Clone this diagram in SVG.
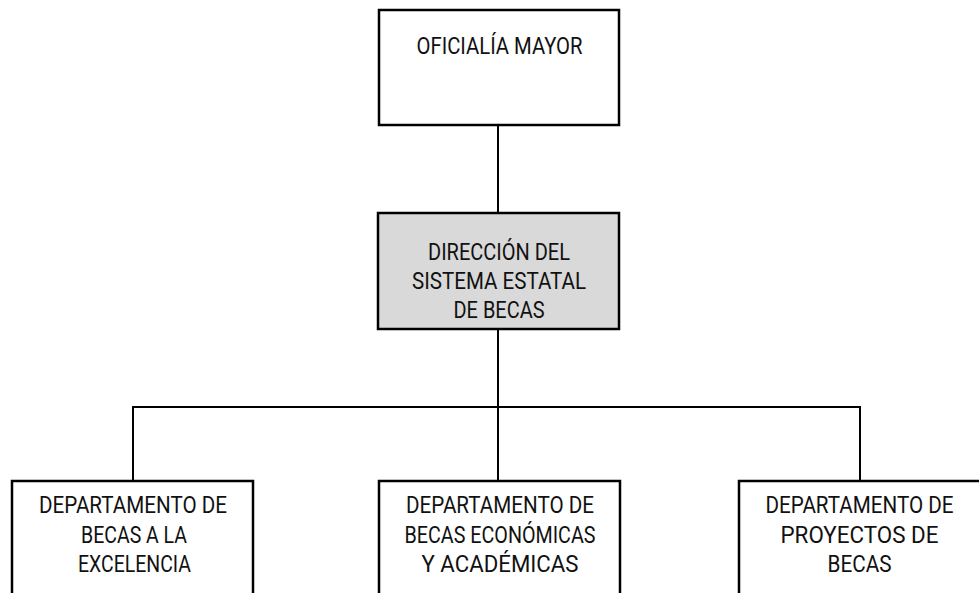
<svg xmlns="http://www.w3.org/2000/svg" width="979" height="593" viewBox="0 0 979 593">
<style>
.box{fill:#ffffff;stroke:#000000;stroke-width:2.5}
.grey{fill:#d9d9d9}
.lbl{font-family:Roboto,"Liberation Sans",sans-serif;font-size:23px;fill:#111111;text-anchor:middle}
.conn{stroke:#000000;stroke-width:2;fill:none}
</style>
<rect width="979" height="593" fill="#ffffff"/>
<g id="connectors">
<line class="conn" x1="498" y1="125" x2="498" y2="213"/>
<line class="conn" x1="498" y1="329" x2="498" y2="481"/>
<polyline class="conn" points="133,481 133,407 860,407 860,481"/>
</g>
<g id="oficialia">
<rect class="box" x="379" y="10" width="240" height="115"/>
<text class="lbl" x="499.5" y="54" textLength="166" lengthAdjust="spacingAndGlyphs">OFICIALÍA MAYOR</text>
</g>
<g id="direccion">
<rect class="box grey" x="378" y="213" width="241" height="116"/>
<text class="lbl" x="499" y="260" textLength="142" lengthAdjust="spacingAndGlyphs">DIRECCIÓN DEL</text>
<text class="lbl" x="499" y="289" textLength="174" lengthAdjust="spacingAndGlyphs">SISTEMA ESTATAL</text>
<text class="lbl" x="499" y="318" textLength="91" lengthAdjust="spacingAndGlyphs">DE BECAS</text>
</g>
<g id="depto-excelencia">
<rect class="box" x="12" y="481" width="241" height="130"/>
<text class="lbl" x="133" y="513" textLength="188" lengthAdjust="spacingAndGlyphs">DEPARTAMENTO DE</text>
<text class="lbl" x="134" y="543" textLength="106" lengthAdjust="spacingAndGlyphs">BECAS A LA</text>
<text class="lbl" x="134.5" y="572" textLength="113" lengthAdjust="spacingAndGlyphs">EXCELENCIA</text>
</g>
<g id="depto-economicas">
<rect class="box" x="379" y="481" width="241" height="130"/>
<text class="lbl" x="500" y="513" textLength="188" lengthAdjust="spacingAndGlyphs">DEPARTAMENTO DE</text>
<text class="lbl" x="500" y="543" textLength="191" lengthAdjust="spacingAndGlyphs">BECAS ECONÓMICAS</text>
<text class="lbl" x="500" y="572" textLength="157" lengthAdjust="spacingAndGlyphs">Y ACADÉMICAS</text>
</g>
<g id="depto-proyectos">
<rect class="box" x="739" y="481" width="250" height="130"/>
<text class="lbl" x="859.5" y="513" textLength="188" lengthAdjust="spacingAndGlyphs">DEPARTAMENTO DE</text>
<text class="lbl" x="859.5" y="543" textLength="158" lengthAdjust="spacingAndGlyphs">PROYECTOS DE</text>
<text class="lbl" x="859.5" y="572" textLength="64" lengthAdjust="spacingAndGlyphs">BECAS</text>
</g>
</svg>
